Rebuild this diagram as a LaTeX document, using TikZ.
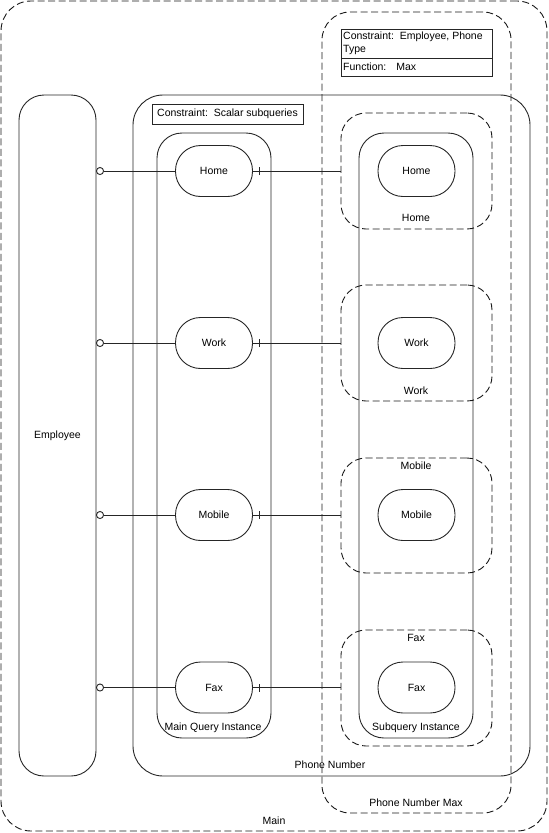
\documentclass[tikz,border=0pt]{standalone}
\usepackage{fontspec}
\setmainfont{Liberation Sans}
\usetikzlibrary{arrows.meta,calc}
\begin{document}
\begin{tikzpicture}[x=1pt,y=-1pt,
  font=\fontsize{10.5}{12.6}\selectfont,
  solidbox/.style={draw=black!85, line width=0.9pt, inner sep=0pt, outer sep=0pt},
  dashbox/.style={draw=black!90, line width=0.9pt, dash pattern=on 7pt off 3.5pt, inner sep=0pt, outer sep=0pt},
  entity/.style={solidbox, minimum width=77, minimum height=51, rounded corners=25},
  group/.style={dashbox, minimum width=151, minimum height=116, rounded corners=25},
  lbl/.style={inner sep=0pt, text=black},
  conn/.style={draw=black!85, line width=0.9pt},
  zero/.style={conn, {Circle[open,length=8pt,width=8pt]}-}
]
\useasboundingbox (0,0) rectangle (549,833);

% outer containers
\node[dashbox, minimum width=546, minimum height=830, rounded corners=30] (main) at (274,416) {};
\node[lbl] (mainlbl) at (274,821) {Main};

\node[dashbox, minimum width=189, minimum height=801, rounded corners=28] (pnmax) at (416.5,412.5) {};
\node[lbl] (pnmaxlbl) at (416,803) {Phone Number Max};

\node[solidbox, minimum width=151, minimum height=47] (cons) at (416.5,52.5) {};
\draw[conn] (cons.north west) ++(0,29) coordinate (consdiv) -- (cons.east |- consdiv);
\node[lbl, anchor=west] (c1) at (343,37) {Constraint:\ \ Employee, Phone};
\node[lbl, anchor=west] (c2) at (343,50) {Type};
\node[lbl, anchor=west] (c3) at (343,67) {Function:\hspace{10pt}Max};

\node[solidbox, minimum width=397, minimum height=681, rounded corners=30] (pn) at (331.5,435.5) {};
\node[lbl] (pnlbl) at (330,765) {Phone Number};

\node[solidbox, minimum width=151, minimum height=20] (scalar) at (227.5,114) {Constraint:\ \ Scalar subqueries};

\node[solidbox, minimum width=77, minimum height=681, rounded corners=25] (emp) at (57.5,435.5) {Employee};

\node[solidbox, minimum width=114, minimum height=605, rounded corners=25] (mqi) at (214,435.5) {};
\node[lbl] (mqilbl) at (213,728) {Main Query Instance};

\node[solidbox, minimum width=114, minimum height=605, rounded corners=25] (sqi) at (416,435.5) {};
\node[lbl] (sqilbl) at (416,728) {Subquery Instance};

% subquery groups
\node[group] (gHome) at (416.5,171) {};
\node[lbl] (gHomelbl) at (416,218) {Home};
\node[group] (gWork) at (416.5,343) {};
\node[lbl] (gWorklbl) at (416,391) {Work};
\node[group, minimum height=115] (gMobile) at (416.5,515.5) {};
\node[lbl] (gMobilelbl) at (416,466) {Mobile};
\node[group] (gFax) at (416.5,688) {};
\node[lbl] (gFaxlbl) at (416,638) {Fax};

% entities
\node[entity] (mHome) at (214,171) {Home};
\node[entity] (mWork) at (214,343) {Work};
\node[entity] (mMobile) at (214,515) {Mobile};
\node[entity] (mFax) at (214,687.5) {Fax};

\node[entity] (sHome) at (416.5,171) {Home};
\node[entity] (sWork) at (416.5,343) {Work};
\node[entity] (sMobile) at (416.5,515) {Mobile};
\node[entity] (sFax) at (416.5,687.5) {Fax};

% connectors
\foreach \n/\g in {Home/gHome, Work/gWork, Mobile/gMobile, Fax/gFax}{
  \draw[zero] (emp.east |- m\n.west) -- (m\n.west);
  \draw[conn] (m\n.east) -- (\g.west |- m\n.east);
  \path (m\n.east) ++(7,0) coordinate (t\n);
  \draw[conn] ([yshift=-4pt]t\n) -- ([yshift=4pt]t\n);
}
\end{tikzpicture}
\end{document}
